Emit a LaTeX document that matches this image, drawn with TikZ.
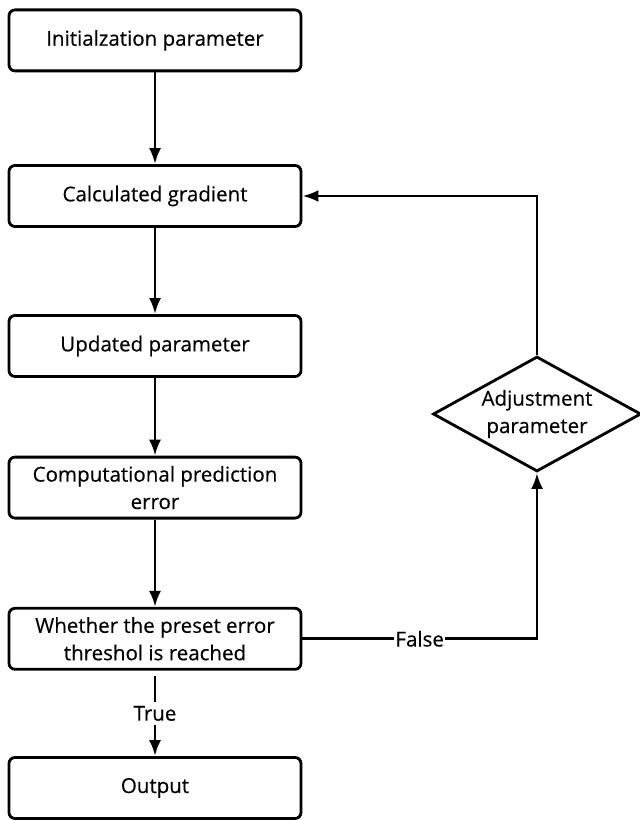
\documentclass[tikz,border=0pt]{standalone}
\usepackage{fontspec}
\setmainfont{Open Sans}[FakeBold=0.4]
\usetikzlibrary{shapes.geometric, arrows.meta}

\tikzset{
	stepbox/.style={draw, rounded corners=0.15cm, line width=2pt, minimum width=7.3cm, minimum height=1.525cm, align=center, font=\fontsize{14.6}{19.5}\selectfont},
	adjbox/.style={draw, diamond, line width=2pt, minimum width=5.2cm, minimum height=2.875cm, inner sep=0pt, shape aspect=1.8, align=center, font=\fontsize{14.6}{19.5}\selectfont},
	flow/.style={line width=2pt, -{Latex[length=0.4cm, width=0.3cm]}},
	flowlabel/.style={fill=white, inner sep=1pt, font=\fontsize{14.6}{17}\selectfont},
}

\begin{document}
\begin{tikzpicture}
		\useasboundingbox (0,0) rectangle (16,-20.5);
		% main column
		\node[stepbox] (init) at (3.875, -1.01) {Initialzation parameter};
		\node[stepbox] (grad) at (3.875, -4.9) {Calculated gradient};
		\node[stepbox] (update) at (3.875, -8.65) {Updated parameter};
		\node[stepbox] (error) at (3.875, -12.19) {Computational prediction\\error};
		\node[stepbox] (judge) at (3.875, -15.97) {Whether the preset error\\threshol is reached};
		\node[stepbox] (output) at (3.875, -19.7) {Output};
		% loop back
		\node[adjbox] (adjust) at (13.425, -10.35) {Adjustment\\parameter};
		
		\draw[flow] (init) -- (grad);
		\draw[flow] (grad) -- (update);
		\draw[flow] (update) -- (error);
		\draw[flow] (error) -- (judge);
		\draw[flow, shorten <=4pt] (judge) -- node[flowlabel, inner sep=3pt] {True} (output);
		\draw[flow] (judge.east) -| node[pos=0.25, flowlabel] {False} (adjust.south);
		\draw[flow] (adjust.north) |- (grad.east);
	\end{tikzpicture}
\end{document}
